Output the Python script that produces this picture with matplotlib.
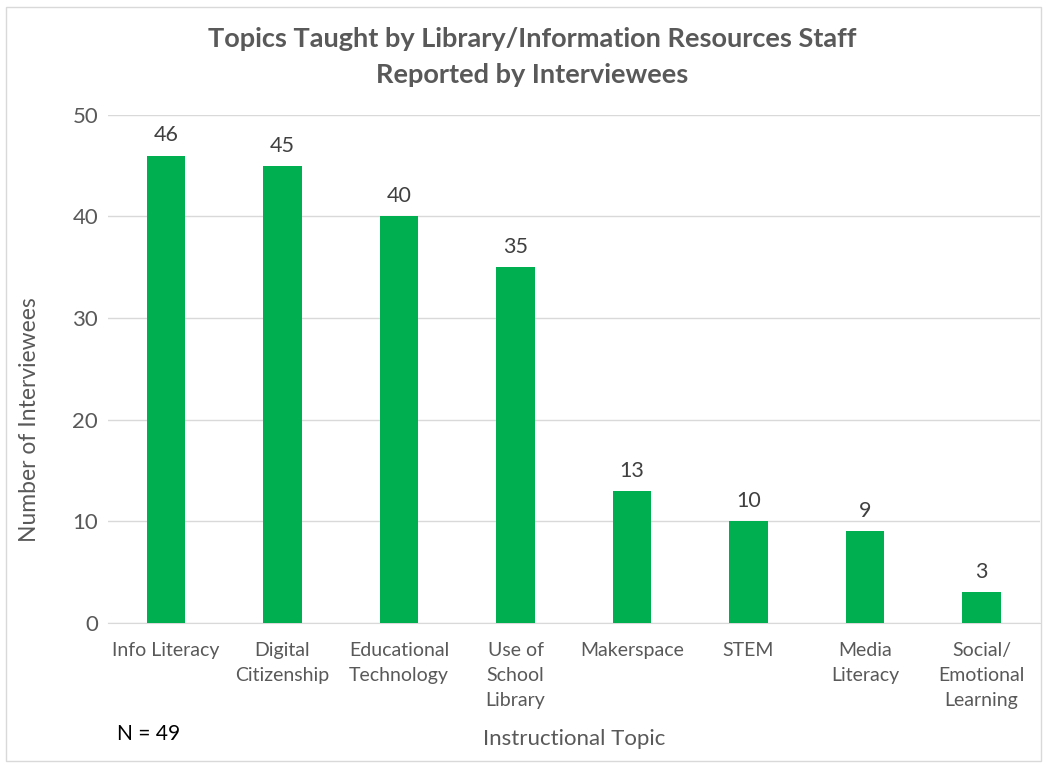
import matplotlib.pyplot as plt
from matplotlib.patches import Rectangle

topics = ['Info Literacy', 'Digital\nCitizenship', 'Educational\nTechnology',
          'Use of\nSchool\nLibrary', 'Makerspace', 'STEM', 'Media\nLiteracy',
          'Social/\nEmotional\nLearning']
counts = [46, 45, 40, 35, 13, 10, 9, 3]

plt.rcParams['font.family'] = ['Lato', 'DejaVu Sans']
grey = '#595959'

fig = plt.figure(figsize=(10.47, 7.66), dpi=100)
ax = fig.add_axes([0.103, 0.187, 0.890, 0.663])

x = range(len(topics))
bars = ax.bar(x, counts, width=0.33, color='#00B050', zorder=3)
for b, v in zip(bars, counts):
    ax.text(b.get_x() + b.get_width() / 2, v + 1.0, str(v), ha='center', va='bottom',
            fontsize=15.5, color='#404040')

ax.set_xlim(-0.5, len(topics) - 0.5)
ax.set_ylim(0, 50)
ax.set_yticks(range(0, 51, 10))
ax.set_xticks(list(x))
ax.set_xticklabels(topics, fontsize=14, color=grey, linespacing=1.55, va='top')
ax.tick_params(axis='y', labelsize=16, labelcolor=grey, length=0, pad=7)
ax.tick_params(axis='x', length=0, pad=14)
ax.grid(axis='y', color='#d9d9d9', linewidth=1, zorder=0)
for s in ['top', 'right', 'left']:
    ax.spines[s].set_visible(False)
ax.spines['bottom'].set_color('#d9d9d9')

ax.set_ylabel('Number of Interviewees', fontsize=16.5, color=grey, va='center')
ax.yaxis.set_label_coords(-0.084, 0.40)
fig.text(0.548, 0.028, 'Instructional Topic', ha='center', fontsize=16, color=grey)
fig.text(0.112, 0.034, 'N = 49', ha='left', fontsize=15, color='black')

fig.text(0.508, 0.926, 'Topics Taught by Library/Information Resources Staff\nReported by Interviewees',
         ha='center', va='center', fontsize=19.5, fontweight='bold', color=grey, linespacing=1.6)

fig.patches.append(Rectangle((0.006, 0.006), 0.988, 0.985, transform=fig.transFigure,
                             fill=False, edgecolor='#d9d9d9', linewidth=1))

fig.savefig('out.png', dpi=100)
